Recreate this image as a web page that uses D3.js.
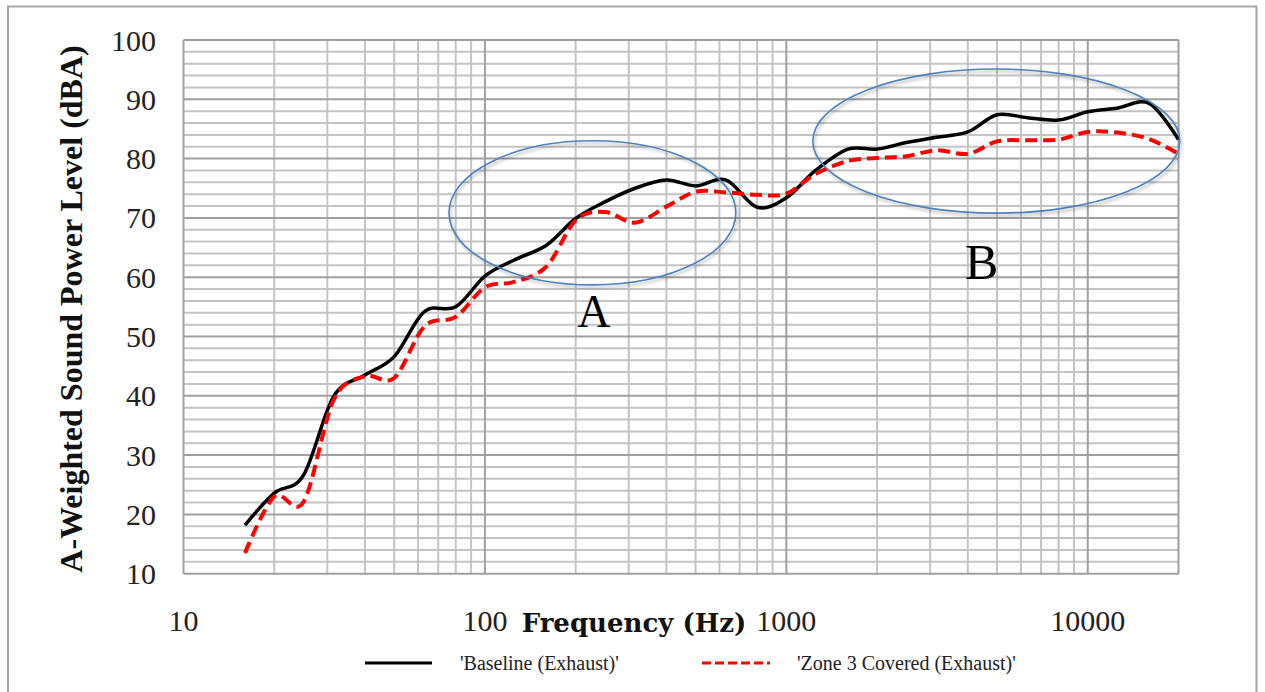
<!DOCTYPE html>
<html><head><meta charset="utf-8">
<script src="https://cdn.jsdelivr.net/npm/d3@7"></script>
<style>body{margin:0;background:#fff}svg{display:block}</style>
</head><body>
<svg id="c" width="1265" height="692"></svg>
<script>
const freqs = [16,20,25,31.5,40,50,63,80,100,125,160,200,250,315,400,500,630,800,1000,1250,1600,2000,2500,3150,4000,5000,6300,8000,10000,12500,16000,20000];
const baseline = [18.2,23.6,26.6,39.9,43.5,46.6,54.2,55.0,60.2,62.9,65.4,69.9,72.7,75.0,76.4,75.4,76.4,71.8,73.4,78.0,81.6,81.6,82.7,83.6,84.5,87.4,86.9,86.5,87.9,88.5,89.3,83.2];
const zone3 = [13.5,23.0,22.1,39.3,43.3,43.0,51.7,53.3,58.3,59.2,61.8,69.6,71.0,69.2,71.9,74.4,74.3,73.9,74.1,77.4,79.6,80.1,80.4,81.4,80.8,82.9,83.1,83.2,84.5,84.4,83.3,80.8];
const xTicks = [10,100,1000,10000];
const yTicks = [10,20,30,40,50,60,70,80,90,100];
const seriesNames = ["'Baseline (Exhaust)'","'Zone 3 Covered (Exhaust)'"];
const xTitle = "Frequency (Hz)";
const yTitle = "A-Weighted Sound Power Level (dBA)";
const annotations = [{label:"A", f:[76,680], v:[58.7,83.0]},{label:"B", f:[1224,20200], v:[70.8,95.1]}];

const svg = d3.select("#c");
const x = d3.scaleLog().domain([10,20000]).range([183.5,1178.5]);
const y = d3.scaleLinear().domain([10,100]).range([573.7,40]);

const defs = svg.append("defs");
const f = defs.append("filter").attr("id","sh").attr("x","-10%").attr("y","-10%").attr("width","120%").attr("height","130%");
f.append("feDropShadow").attr("dx",1.5).attr("dy",2.5).attr("stdDeviation",1.8).attr("flood-color","#000").attr("flood-opacity",0.3);

svg.append("path").attr("d","M8,700 V6.5 H1256.5 V700").attr("fill","none").attr("stroke","#a6a6a6").attr("stroke-width",2);

const g = svg.append("g");
const minorX = [];
[10,100,1000,10000].forEach(d=>{for(let k=2;k<=9;k++){const v=d*k; if(v<20000) minorX.push(v);}});
g.selectAll(".mx").data(minorX).join("line")
 .attr("x1",d=>x(d)).attr("x2",d=>x(d)).attr("y1",y(100)).attr("y2",y(10))
 .attr("stroke","#c4c4c4").attr("stroke-width",2);
const minorY = d3.range(12,100,2).filter(v=>v%10!==0);
g.selectAll(".my").data(minorY).join("line")
 .attr("x1",x(10)).attr("x2",x(20000)).attr("y1",d=>y(d)).attr("y2",d=>y(d))
 .attr("stroke","#c4c4c4").attr("stroke-width",2);
g.selectAll(".MY").data(yTicks).join("line")
 .attr("x1",x(10)).attr("x2",x(20000)).attr("y1",d=>y(d)).attr("y2",d=>y(d))
 .attr("stroke","#a0a0a0").attr("stroke-width",2);
g.selectAll(".MX").data(xTicks.concat([20000])).join("line")
 .attr("x1",d=>x(d)).attr("x2",d=>x(d)).attr("y1",y(100)).attr("y2",y(10))
 .attr("stroke","#a0a0a0").attr("stroke-width",2);

svg.selectAll(".yl").data(yTicks).join("text")
 .attr("x",156).attr("y",d=>y(d)).attr("dy","0.35em").attr("text-anchor","end")
 .attr("font-family","Liberation Serif").attr("font-size",30).attr("fill","#222").text(d=>d);
svg.selectAll(".xl").data(xTicks).join("text")
 .attr("x",d=>x(d)).attr("y",631).attr("text-anchor","middle")
 .attr("font-family","Liberation Serif").attr("font-size",30).attr("fill","#222").text(d=>d);

svg.append("text").attr("x",634).attr("y",632).attr("text-anchor","middle")
 .attr("font-family","DejaVu Serif").attr("font-weight","bold").attr("font-size",26).attr("fill","#111").text(xTitle);
svg.append("text").attr("transform","translate(82,309) rotate(-90)").attr("text-anchor","middle")
 .attr("font-family","Liberation Serif").attr("font-weight","bold").attr("font-size",32).attr("fill","#111").text(yTitle);

const line = (vals)=>d3.line().x((d,i)=>x(freqs[i])).y(d=>y(d)).curve(d3.curveCatmullRom.alpha(0))(vals);
svg.append("path").attr("d",line(baseline)).attr("fill","none").attr("stroke","#000").attr("stroke-width",3.5);
svg.append("path").attr("d",line(zone3)).attr("fill","none").attr("stroke","#ff0000").attr("stroke-width",4).attr("stroke-dasharray","12,6");

annotations.forEach(a=>{
  const cx=(x(a.f[0])+x(a.f[1]))/2, cy=(y(a.v[0])+y(a.v[1]))/2;
  const rx=(x(a.f[1])-x(a.f[0]))/2, ry=(y(a.v[0])-y(a.v[1]))/2;
  svg.append("ellipse").attr("cx",cx).attr("cy",cy).attr("rx",rx).attr("ry",ry)
    .attr("fill","none").attr("stroke","#4f81bd").attr("stroke-width",1.6).attr("filter","url(#sh)");
});
svg.append("text").attr("x",x(230)).attr("y",327).attr("text-anchor","middle")
 .attr("font-family","Liberation Serif").attr("font-size",46).attr("fill","#000").text("A");
svg.append("text").attr("x",x(4450)).attr("y",279).attr("text-anchor","middle")
 .attr("font-family","Liberation Serif").attr("font-size",50).attr("fill","#000").text("B");

svg.append("line").attr("x1",365).attr("x2",432).attr("y1",663).attr("y2",663).attr("stroke","#000").attr("stroke-width",3);
svg.append("text").attr("x",460).attr("y",663).attr("dy","0.35em").attr("font-family","Liberation Serif").attr("font-size",20).attr("fill","#222").text(seriesNames[0]);
svg.append("line").attr("x1",702).attr("x2",770).attr("y1",663).attr("y2",663).attr("stroke","#ff0000").attr("stroke-width",3).attr("stroke-dasharray","9,4");
svg.append("text").attr("x",797).attr("y",663).attr("dy","0.35em").attr("font-family","Liberation Serif").attr("font-size",20).attr("fill","#222").text(seriesNames[1]);
</script>
</body></html>
